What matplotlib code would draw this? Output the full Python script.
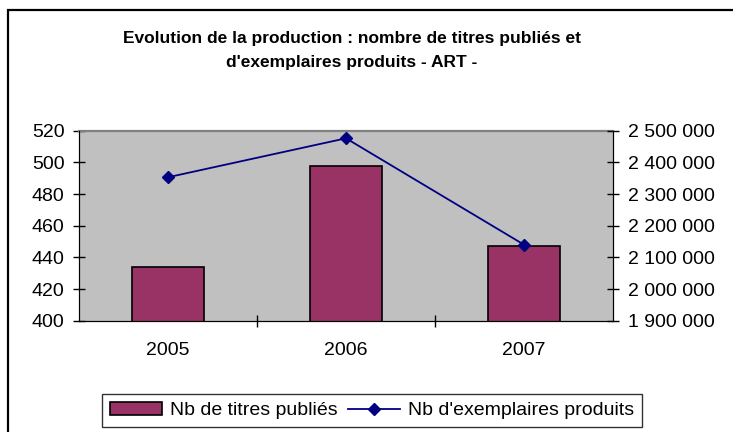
import matplotlib
matplotlib.use('Agg')
import matplotlib.pyplot as plt
from matplotlib.patches import Rectangle, Patch
from matplotlib.lines import Line2D
from matplotlib.ticker import FuncFormatter, MultipleLocator

plt.rcParams['font.family'] = ['Liberation Sans', 'DejaVu Sans']

# Data
years = ['2005', '2006', '2007']
titres = [434, 498, 447]
exemplaires = [2353000, 2476000, 2140000]

W, H = 733, 432
fig = plt.figure(figsize=(W / 100, H / 100), dpi=100)

# outer chart frame (only left and top edges are visible)
fig.add_artist(Rectangle((8 / W, -0.2), 1.2, 1.2 - 10 / H, transform=fig.transFigure,
                         fill=False, edgecolor='black', lw=1.6))

ax = fig.add_axes([79 / W, 1 - 320.7 / H, (613 - 79) / W, (320.7 - 130.7) / H])
ax.set_facecolor('#c0c0c0')

x = range(len(years))
ax.bar(x, titres, width=0.41, color='#993366', edgecolor='black', linewidth=1.2, zorder=2)
ax.set_xlim(-0.5, 2.5)
ax.set_ylim(400, 520)
ax.yaxis.set_major_locator(MultipleLocator(20))
ax.set_xticks([0.5, 1.5])
ax.set_xticks(list(x), minor=True)
ax.set_xticklabels([])
ax.set_xticklabels(years, minor=True)
ax.tick_params(axis='x', which='minor', length=0, pad=15, labelsize=14)
ax.tick_params(axis='x', which='major', direction='inout', length=9, width=1)
ax.tick_params(axis='y', direction='inout', length=9, width=1, pad=6, labelsize=14)

for s in ['left', 'bottom']:
    ax.spines[s].set_color('black')
ax.spines['top'].set_color('#808080')
ax.spines['top'].set_linewidth(1.6)

ax2 = ax.twinx()
ax2.plot(list(x), exemplaires, color='#000080', lw=1.3, marker='D', markersize=6.5, zorder=3)
ax2.set_ylim(1900000, 2500000)
ax2.yaxis.set_major_locator(MultipleLocator(100000))
ax2.yaxis.set_major_formatter(FuncFormatter(lambda v, p: f'{int(v):,}'.replace(',', ' ')))
ax2.tick_params(axis='y', direction='inout', length=9, width=1, pad=6, labelsize=14)
ax2.spines['right'].set_color('black')
ax2.spines['top'].set_visible(False)

fig.text(352 / W, 1 - 39 / H, 'Evolution de la production : nombre de titres publiés et',
         ha='center', va='center', fontsize=12.5, fontweight='bold')
fig.text(352 / W, 1 - 63 / H, "d'exemplaires produits - ART -",
         ha='center', va='center', fontsize=12.5, fontweight='bold')

handles = [Patch(facecolor='#993366', edgecolor='black', linewidth=1.2),
           Line2D([], [], color='#000080', lw=1.3, marker='D', markersize=6.5)]
leg = fig.legend(handles, ['Nb de titres publiés', "Nb d'exemplaires produits"],
                 loc='center', bbox_to_anchor=(372 / W, 1 - 410.5 / H), ncol=2,
                 fontsize=14, frameon=True, fancybox=False, edgecolor='black',
                 handlelength=2.7, handleheight=0.7, handletextpad=0.4,
                 columnspacing=0.5, borderpad=0.4, borderaxespad=0)
leg.get_frame().set_linewidth(1.0)

fig.savefig('out.png', dpi=100)
